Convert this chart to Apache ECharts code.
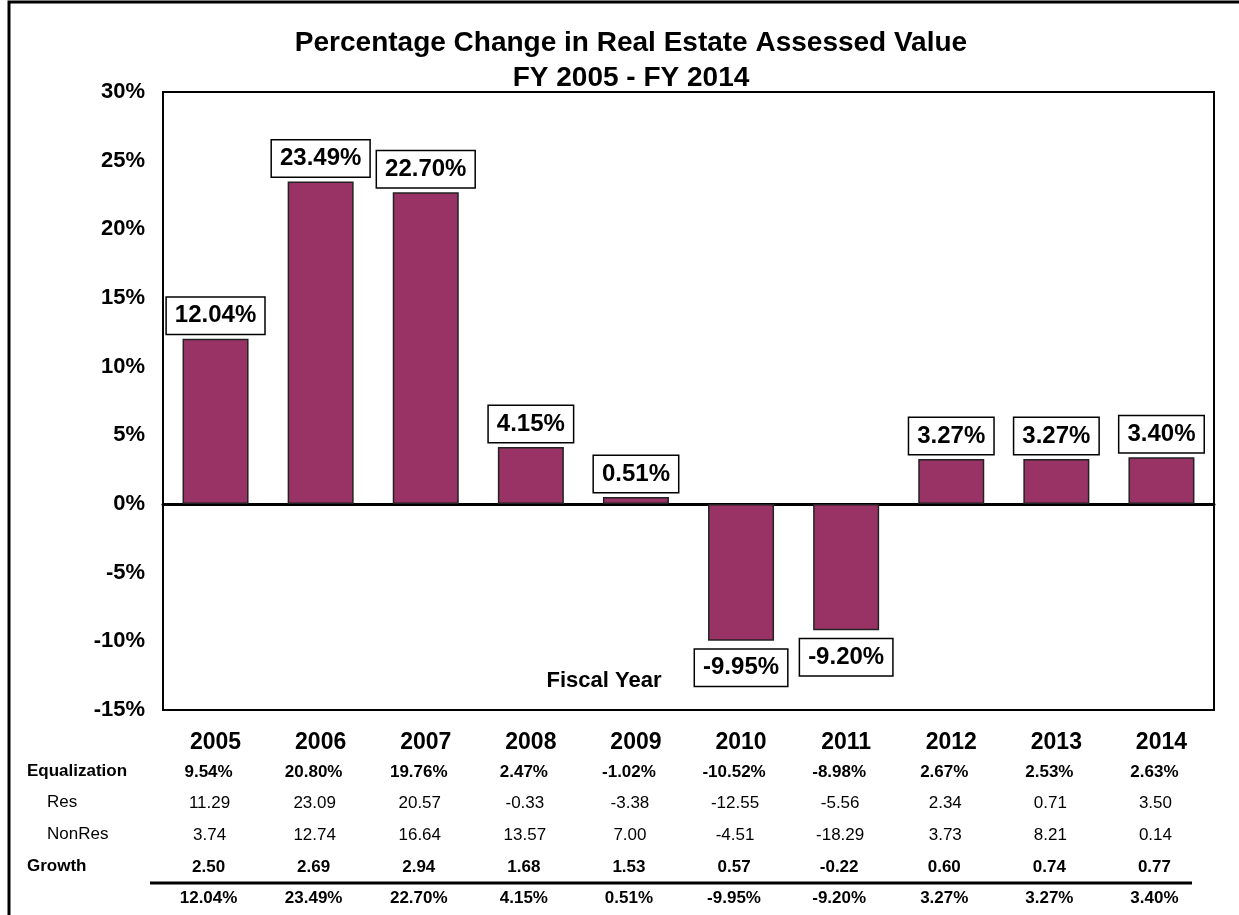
<!DOCTYPE html>
<html>
<head>
<meta charset="utf-8">
<script src="https://cdn.jsdelivr.net/npm/echarts@6/dist/echarts.min.js"></script>
<style>
  html, body { margin: 0; padding: 0; background: #fff; }
  #main { width: 1239px; height: 915px; }
</style>
</head>
<body>
<div id="main"></div>
<script>
// fiscal years
var years = ['2005', '2006', '2007', '2008', '2009', '2010', '2011', '2012', '2013', '2014'];
// total change (bars + bottom row)
var totalChange = [12.04, 23.49, 22.70, 4.15, 0.51, -9.95, -9.20, 3.27, 3.27, 3.40];
// table rows
var equalization = [9.54, 20.80, 19.76, 2.47, -1.02, -10.52, -8.98, 2.67, 2.53, 2.63];
var res = [11.29, 23.09, 20.57, -0.33, -3.38, -12.55, -5.56, 2.34, 0.71, 3.50];
var nonRes = [3.74, 12.74, 16.64, 13.57, 7.00, -4.51, -18.29, 3.73, 8.21, 0.14];
var growth = [2.50, 2.69, 2.94, 1.68, 1.53, 0.57, -0.22, 0.60, 0.74, 0.77];
var rowNames = ['Equalization', 'Res', 'NonRes', 'Growth'];

var chart = echarts.init(document.getElementById('main'));

var SANS = '"Liberation Sans", Arial, sans-serif';

function pct(v) { return v.toFixed(2) + '%'; }
function num(v) { return v.toFixed(2); }

// 表格的每一行用一条隐藏的x轴画出来
function rowAxis(data, offset, bold, size, shift) {
    return {
        type: 'category',
        gridIndex: 0,
        position: 'bottom',
        offset: offset,
        data: data,
        axisLine: { show: false },
        axisTick: { show: false },
        splitLine: { show: false },
        axisLabel: {
            interval: 0,
            margin: 0,
            verticalAlign: 'middle',
            color: '#000',
            fontFamily: SANS,
            fontWeight: bold ? 'bold' : 'normal',
            fontSize: size,
            padding: [0, shift || 0, 0, 0]
        }
    };
}

var barData = totalChange.map(function (v) {
    return {
        value: v,
        label: { position: v < 0 ? 'bottom' : 'top', distance: v < 0 ? 9 : 5 }
    };
});

var option = {
    backgroundColor: '#fff',
    animation: false,
    title: {
        text: 'Percentage Change in Real Estate Assessed Value\nFY 2005 - FY 2014',
        left: 626,
        top: 21,
        textAlign: 'center',
        textStyle: {
            fontFamily: SANS,
            fontWeight: 'bold',
            fontSize: 28,
            lineHeight: 35,
            color: '#000'
        }
    },
    grid: {
        left: 163,
        top: 92,
        right: 25,
        bottom: 205,
        show: true,
        borderColor: '#000',
        borderWidth: 2,
        backgroundColor: '#fff',
        outerBoundsMode: 'none'
    },
    xAxis: [
        {
            type: 'category',
            data: years,
            axisLine: { onZero: true, lineStyle: { color: '#000', width: 3 } },
            axisTick: { show: false },
            axisLabel: { show: false },
            splitLine: { show: false }
        },
        rowAxis(years, 33, true, 23, 0),
        rowAxis(equalization.map(pct), 62, true, 17, 14),
        rowAxis(res.map(num), 93, false, 17, 12),
        rowAxis(nonRes.map(num), 125, false, 17, 12),
        rowAxis(growth.map(num), 157, true, 17, 14),
        rowAxis(totalChange.map(pct), 188, true, 17, 14)
    ],
    yAxis: {
        type: 'value',
        min: -15,
        max: 30,
        interval: 5,
        axisLine: { show: false },
        axisTick: { show: false },
        splitLine: { show: false },
        axisLabel: {
            formatter: '{value}%',
            margin: 18,
            color: '#000',
            fontFamily: SANS,
            fontWeight: 'bold',
            fontSize: 22
        }
    },
    series: [{
        type: 'bar',
        data: barData,
        barWidth: 66,
        itemStyle: { color: '#993366', borderColor: '#222', borderWidth: 1.5 },
        label: {
            show: true,
            formatter: function (p) { return pct(p.value); },
            color: '#000',
            fontFamily: SANS,
            fontWeight: 'bold',
            fontSize: 24,
            lineHeight: 26,
            backgroundColor: '#fff',
            borderColor: '#000',
            borderWidth: 1.5,
            padding: [5, 8]
        }
    }],
    graphic: [
        {
            type: 'rect',
            silent: true,
            shape: { x: 9, y: 2, width: 1240, height: 930 },
            style: { fill: null, stroke: '#000', lineWidth: 3 },
            z: 100
        },
        {
            type: 'text',
            x: 604, y: 681,
            style: {
                text: 'Fiscal Year', fill: '#000', align: 'center', verticalAlign: 'middle',
                fontFamily: SANS, fontWeight: 'bold', fontSize: 22
            },
            z: 50
        },
        {
            type: 'text', x: 27, y: 771,
            style: { text: rowNames[0], fill: '#000', verticalAlign: 'middle', fontFamily: SANS, fontWeight: 'bold', fontSize: 17 }
        },
        {
            type: 'text', x: 47, y: 802,
            style: { text: rowNames[1], fill: '#000', verticalAlign: 'middle', fontFamily: SANS, fontSize: 17 }
        },
        {
            type: 'text', x: 47, y: 834,
            style: { text: rowNames[2], fill: '#000', verticalAlign: 'middle', fontFamily: SANS, fontSize: 17 }
        },
        {
            type: 'text', x: 27, y: 866,
            style: { text: rowNames[3], fill: '#000', verticalAlign: 'middle', fontFamily: SANS, fontWeight: 'bold', fontSize: 17 }
        },
        {
            type: 'line',
            shape: { x1: 150, y1: 883, x2: 1192, y2: 883 },
            style: { stroke: '#000', lineWidth: 3 }
        }
    ]
};

chart.setOption(option);
</script>
</body>
</html>
